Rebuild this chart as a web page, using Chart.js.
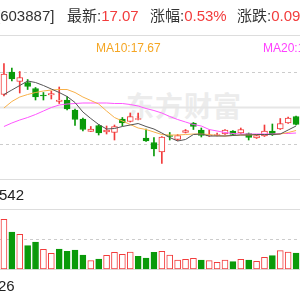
<!DOCTYPE html>
<html><head><meta charset="utf-8">
<script src="https://cdn.jsdelivr.net/npm/chart.js@4.4.0/dist/chart.umd.min.js"></script>
<style>
html,body{margin:0;padding:0;background:#fff;}
#wrap{position:relative;width:300px;height:300px;overflow:hidden;background:#fff;font-family:"Liberation Sans",Arial,"Noto Sans CJK SC",sans-serif;}
.t{position:absolute;white-space:nowrap;line-height:1;}
canvas{position:absolute;left:0;top:0;}
.r{color:#f23c3c}
</style></head><body>
<div id="wrap">
 <div class="t" style="left:126px;top:91px;font-size:28px;font-weight:bold;letter-spacing:1px;color:#ececec;font-family:'Noto Sans CJK SC',sans-serif;">东方财富</div>
 <canvas id="c" width="300" height="300"></canvas>
 <div class="t" style="left:-4px;top:8px;font-size:15px;color:#333">[603887]</div>
 <div class="t" style="left:67px;top:8px;font-size:15px;color:#333">最新:<span class="r">17.07</span></div>
 <div class="t" style="left:150px;top:8px;font-size:15px;color:#333">涨幅:<span class="r">0.53%</span></div>
 <div class="t" style="left:237px;top:8px;font-size:15px;color:#333">涨跌:<span class="r">0.09</span></div>
 <div class="t" style="left:96px;top:42px;font-size:12px;color:#f5a623">MA10:17.67</div>
 <div class="t" style="left:263px;top:42px;font-size:12px;color:#ff40ff">MA20:17.64</div>
 <div class="t" style="left:-1px;top:187px;font-size:15px;color:#222">542</div>
 <div class="t" style="left:-2px;top:278px;font-size:15px;color:#222">26</div>
</div>
<script>
const categories = ['01','02','03','04','05','06','07','08','09','10','11','12','13','14','15','16','17','18','19','20','21','22','23','24','25','26','27','28','29','30','31','32','33','34','35','36','37','38'];
const openP  = [18.41,18.86,18.67,18.65,18.53,18.39,18.40,18.27,18.30,18.10,17.92,17.67,17.79,17.66,17.65,17.92,17.87,17.91,17.54,17.45,17.26,17.59,17.51,17.65,17.84,17.70,17.58,17.59,17.62,17.68,17.64,17.63,17.54,17.58,17.68,17.72,17.84,17.97];
const highP  = [19.03,18.94,18.87,18.71,18.55,18.45,18.48,18.56,18.37,18.12,17.94,17.77,17.81,17.78,17.80,17.95,18.04,18.04,17.72,17.55,17.57,17.65,17.61,17.71,17.85,17.74,17.70,17.64,17.71,17.69,17.74,17.64,17.60,17.80,17.82,17.93,17.96,17.98];
const lowP   = [18.38,18.68,18.44,18.51,18.30,18.30,18.32,18.23,18.10,17.79,17.68,17.67,17.60,17.62,17.50,17.78,17.86,17.90,17.47,17.18,17.03,17.50,17.49,17.64,17.71,17.56,17.57,17.58,17.61,17.60,17.63,17.50,17.53,17.57,17.59,17.71,17.83,17.80];
const closeP = [18.82,18.72,18.75,18.57,18.36,18.38,18.43,18.30,18.12,17.91,17.71,17.72,17.64,17.70,17.77,17.84,17.97,17.93,17.48,17.32,17.56,17.57,17.59,17.69,17.77,17.59,17.60,17.61,17.70,17.61,17.71,17.55,17.59,17.68,17.60,17.83,17.94,17.81];
const volume = [49700,37000,34700,23300,27000,19700,15700,20000,17700,19000,14000,8300,10000,13700,16700,14700,17000,12700,11000,16700,17700,14000,9000,9700,10700,9000,8300,6700,9000,7300,9700,9000,7700,11700,13300,18300,17000,16000];
const ma5  = [18.41,18.50,18.59,18.68,18.65,18.59,18.52,18.45,18.37,18.25,18.06,17.93,17.81,17.72,17.73,17.77,17.80,17.83,17.77,17.72,17.64,17.55,17.48,17.51,17.61,17.62,17.58,17.58,17.58,17.59,17.60,17.60,17.61,17.61,17.61,17.62,17.70,17.78];
const ma10 = [18.14,18.27,18.36,18.41,18.45,18.48,18.50,18.51,18.51,18.45,18.36,18.29,18.22,18.08,17.95,17.88,17.81,17.74,17.71,17.66,17.61,17.60,17.60,17.61,17.62,17.62,17.61,17.59,17.58,17.59,17.60,17.60,17.61,17.61,17.61,17.62,17.65,17.69];
const ma20 = [17.77,17.84,17.90,17.95,18.01,18.08,18.15,18.20,18.22,18.23,18.24,18.24,18.24,18.24,18.23,18.23,18.21,18.18,18.13,18.09,18.04,17.97,17.91,17.86,17.81,17.78,17.71,17.68,17.65,17.63,17.62,17.62,17.62,17.62,17.62,17.63,17.63,17.64];

const RED = '#f23c3c', GREEN = '#0a9a0a', WHITE = '#ffffff';
const candleUp = closeP.map((c,i)=> c >= openP[i]);
const volUp = closeP.map((c,i)=> i === 0 ? candleUp[0] : c >= closeP[i-1]);

const panelLines = {
  id: 'panelLines',
  beforeDatasetsDraw(chart){
    const ctx = chart.ctx, a = chart.chartArea;
    const line = (y, color, w, dash) => {
      ctx.save(); ctx.beginPath(); ctx.setLineDash(dash || []);
      ctx.strokeStyle = color; ctx.lineWidth = w;
      ctx.moveTo(a.left, y); ctx.lineTo(a.right, y); ctx.stroke(); ctx.restore();
    };
    line(35.5, '#dddddd', 1);
    line(72.5, '#cccccc', 1, [3,3]);
    line(107.5, '#e6e6e6', 2);
    line(144.5, '#cccccc', 1, [3,3]);
    line(179.5, '#dddddd', 1);
    line(209.5, '#dddddd', 1);
    line(239.5, '#cccccc', 1, [3,3]);
    line(269.5, '#dddddd', 1);
  }
};

new Chart(document.getElementById('c'), {
  type: 'bar',
  data: {
    labels: categories,
    datasets: [
      { type:'line', label:'MA5', data: ma5, yAxisID:'yp', borderColor:'#555555', borderWidth:1, pointRadius:0, tension:0, order:1 },
      { type:'line', label:'MA10', data: ma10, yAxisID:'yp', borderColor:'#f8b14a', borderWidth:1, pointRadius:0, tension:0, order:1 },
      { type:'line', label:'MA20', data: ma20, yAxisID:'yp', borderColor:'#ff55ff', borderWidth:1, pointRadius:0, tension:0, order:1 },
      { label:'body', data: openP.map((o,i)=>[o, closeP[i]]), yAxisID:'yp', grouped:false, barThickness:6, minBarLength:1,
        backgroundColor: candleUp.map(u=> u ? WHITE : GREEN), borderColor: candleUp.map(u=> u ? RED : GREEN),
        borderWidth:1, borderSkipped:false, order:2 },
      { label:'wick', data: lowP.map((l,i)=>[l, highP[i]]), yAxisID:'yp', grouped:false, barThickness:1,
        backgroundColor: candleUp.map(u=> u ? RED : GREEN), borderWidth:0, order:3 },
      { label:'vol', data: volume, yAxisID:'yv', grouped:false, barThickness:6,
        backgroundColor: volUp.map(u=> u ? WHITE : GREEN), borderColor: volUp.map(u=> u ? RED : GREEN),
        borderWidth:1, borderSkipped:false, order:2 }
    ]
  },
  options: {
    responsive:false, animation:false, devicePixelRatio:1,
    layout:{ padding:0 },
    plugins:{ legend:{display:false}, tooltip:{enabled:false} },
    scales:{
      x:{ display:false, offset:true },
      yp:{ display:false, min:14.30, max:20.30 },
      yv:{ display:false, min:-31000, max:269000 }
    }
  },
  plugins:[panelLines]
});
</script>
</body></html>
